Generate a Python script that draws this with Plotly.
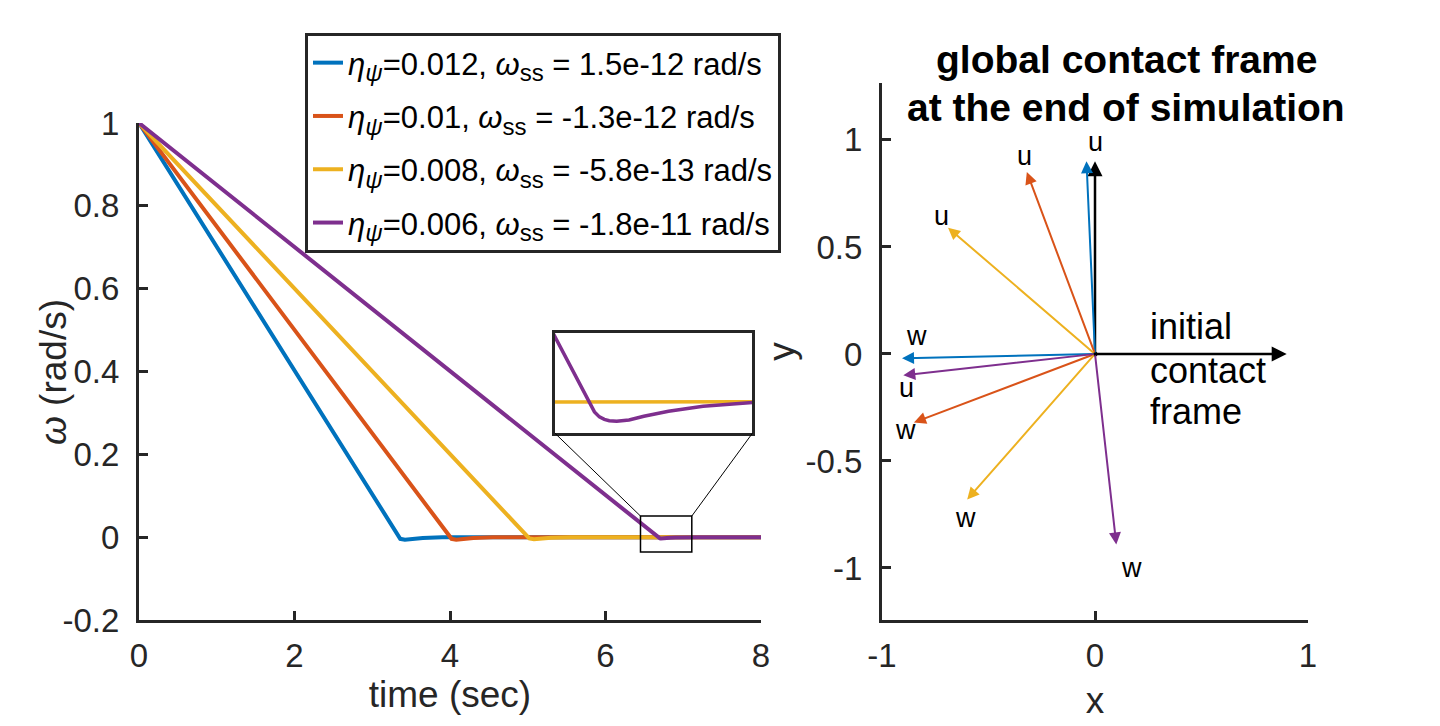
import plotly.graph_objects as go

# angular velocity decay (time in sec, omega in rad/s)
t_blue = [0, 3.30, 3.36, 3.42, 3.50, 3.65, 3.90, 8]
w_blue = [1, 0.01, -0.004, -0.006, -0.004, -0.002, -0.0005, 0]
t_orange = [0, 3.96, 4.02, 4.08, 4.16, 4.30, 4.55, 8]
w_orange = [1, 0.01, -0.004, -0.006, -0.004, -0.002, -0.0005, 0]
t_yellow = [0, 4.95, 5.02, 5.08, 5.16, 5.30, 5.55, 8]
w_yellow = [1, 0.01, -0.003, -0.005, -0.0035, -0.0015, -0.0004, 0]
t_purple = [0, 6.60, 6.64, 6.667, 6.68, 6.69, 6.70, 6.71, 6.725, 6.75, 6.78, 6.83, 6.90, 7.00, 7.20, 8]
w_purple = [1, 0.01, 0.004, 0.0, -0.0018, -0.0026, -0.0030, -0.0032, -0.0033, -0.0031,
            -0.0025, -0.0017, -0.0009, -0.0003, 0, 0]

SUB = '<sub><span style="font-size:24px">{}</span></sub>'
legend_names = [
    "<i>η</i>" + SUB.format("<i>ψ</i>") + "=0.012, <i>ω</i>" + SUB.format("ss") + " = 1.5e-12 rad/s",
    "<i>η</i>" + SUB.format("<i>ψ</i>") + "=0.01, <i>ω</i>" + SUB.format("ss") + " = -1.3e-12 rad/s",
    "<i>η</i>" + SUB.format("<i>ψ</i>") + "=0.008, <i>ω</i>" + SUB.format("ss") + " = -5.8e-13 rad/s",
    "<i>η</i>" + SUB.format("<i>ψ</i>") + "=0.006, <i>ω</i>" + SUB.format("ss") + " = -1.8e-11 rad/s",
]
colors = ["#0072BD", "#D95319", "#EDB120", "#7E2F8E"]

# contact frame vectors at the end of simulation
u_x = [-0.04, -0.32, -0.69, -0.90]
u_y = [0.90, 0.85, 0.59, -0.10]
w_x = [-0.906, -0.85, -0.60, 0.10]
w_y = [-0.02, -0.32, -0.68, -0.89]
# label spots for u / w
u_lab_x = [0.0, -0.33, -0.72, -0.887]
u_lab_y = [0.99, 0.925, 0.643, -0.16]
w_lab_x = [-0.84, -0.89, -0.606, 0.17]
w_lab_y = [0.085, -0.357, -0.765, -1.0]
init_u = [0, 0.90]
init_w = [0.90, 0]
init_text = ["initial", "contact", "frame"]
init_text_y = [0.127, -0.075, -0.268]
title_lines = ["global contact frame", "at the end of simulation"]

font = "Liberation Sans, Arial, Helvetica, sans-serif"
axcol = "#262626"

# page pixels -> paper fractions (page body has an 8px margin)
W, H = 1440, 726
OFF = 8


def px(x):
    return (x - OFF) / W


def py(y):
    return (H - (y - OFF)) / H


left_x = [px(139), px(761)]
left_y = [py(620), py(123)]
right_x = [px(882), px(1308)]
right_y = [py(620), py(83)]
x1_range = [0, 8]
y1_range = [-0.2, 1]

# inset box and zoomed region, in main-axes data units
inset_box_x = [5.35, 7.89]
inset_box_y = [0.251, 0.493]
zoom_box_x = [6.45, 7.11]
zoom_box_y = [-0.036, 0.051]


def to_paper(v, rng, dom):
    return dom[0] + (v - rng[0]) / (rng[1] - rng[0]) * (dom[1] - dom[0])


inset_x = [to_paper(v, x1_range, left_x) for v in inset_box_x]
inset_y = [to_paper(v, y1_range, left_y) for v in inset_box_y]

fig = go.Figure()

series = [(t_blue, w_blue), (t_orange, w_orange), (t_yellow, w_yellow), (t_purple, w_purple)]
for i, ((t, w), name, c) in enumerate(zip(series, legend_names, colors)):
    fig.add_trace(go.Scatter(x=t, y=w, mode="lines", name=name, legendgroup=f"g{i}",
                             line=dict(color=c, width=4), xaxis="x", yaxis="y"))

# inset (yellow and purple only)
for (t, w), c in zip(series[2:], colors[2:]):
    fig.add_trace(go.Scatter(x=t, y=w, mode="lines", showlegend=False,
                             line=dict(color=c, width=3.5), xaxis="x3", yaxis="y3"))

# origin dot of the right axes
fig.add_trace(go.Scatter(x=[0], y=[0], mode="markers", showlegend=False,
                         marker=dict(color="black", size=5), xaxis="x2", yaxis="y2"))

ann = []


def arrow(x, y, c, wd):
    return dict(x=x, y=y, ax=0, ay=0, xref="x2", yref="y2", axref="x2", ayref="y2",
                text="", showarrow=True, arrowhead=2, arrowsize=1.2, arrowwidth=wd,
                arrowcolor=c, standoff=0, startstandoff=0)


ann.append(arrow(init_u[0], init_u[1], "black", 2.5))
ann.append(arrow(init_w[0], init_w[1], "black", 2.5))
for i, c in enumerate(colors):
    ann.append(arrow(u_x[i], u_y[i], c, 2))
    ann.append(arrow(w_x[i], w_y[i], c, 2))
for i in range(4):
    ann.append(dict(x=u_lab_x[i], y=u_lab_y[i], xref="x2", yref="y2", text="u", showarrow=False,
                    font=dict(size=27, color="black", family=font)))
    ann.append(dict(x=w_lab_x[i], y=w_lab_y[i], xref="x2", yref="y2", text="w", showarrow=False,
                    font=dict(size=27, color="black", family=font)))
for txt, ty in zip(init_text, init_text_y):
    ann.append(dict(x=0.25, y=ty, xref="x2", yref="y2", text=txt,
                    showarrow=False, xanchor="left", yanchor="middle",
                    font=dict(size=36, color="black", family=font)))
for txt, ly in zip(title_lines, [60, 108]):
    ann.append(dict(x=px(1126), y=py(ly), xref="paper", yref="paper",
                    text=f"<b>{txt}</b>", showarrow=False, xanchor="center", yanchor="middle",
                    font=dict(size=39, color="black", family=font)))
# left y-axis title
ann.append(dict(x=px(54), y=py(372), xref="paper", yref="paper", text="<i>ω</i> (rad/s)",
                textangle=-90, showarrow=False, xanchor="center", yanchor="middle",
                font=dict(size=37, color=axcol, family=font)))

shapes = [
    dict(type="rect", xref="x", yref="y", x0=zoom_box_x[0], x1=zoom_box_x[1],
         y0=zoom_box_y[0], y1=zoom_box_y[1], line=dict(color="black", width=1.5)),
    dict(type="line", xref="x", yref="y", x0=inset_box_x[0], y0=inset_box_y[0],
         x1=zoom_box_x[0], y1=zoom_box_y[1], line=dict(color="black", width=1)),
    dict(type="line", xref="x", yref="y", x0=inset_box_x[1], y0=inset_box_y[0],
         x1=zoom_box_x[1], y1=zoom_box_y[1], line=dict(color="black", width=1)),
]

axis_common = dict(showgrid=False, zeroline=False, showline=True, linecolor=axcol, linewidth=3,
                   ticks="inside", ticklen=9, tickwidth=3, tickcolor=axcol, automargin=False,
                   tickfont=dict(size=33, color=axcol, family=font))

fig.update_layout(
    width=W, height=H,
    margin=dict(l=0, r=0, t=0, b=0),
    paper_bgcolor="white", plot_bgcolor="white",
    font=dict(family=font, color=axcol),
    xaxis=dict(domain=left_x, range=x1_range, tickvals=[0, 2, 4, 6, 8],
               title=dict(text="time (sec)", font=dict(size=37, color=axcol), standoff=0),
               anchor="y", ticklabelstandoff=4, **axis_common),
    yaxis=dict(domain=left_y, range=y1_range, tickvals=[-0.2, 0, 0.2, 0.4, 0.6, 0.8, 1],
               ticktext=["-0.2", "0", "0.2", "0.4", "0.6", "0.8", "1"],
               anchor="x", ticklabelstandoff=10, **axis_common),
    xaxis2=dict(domain=right_x, range=[-1, 1], tickvals=[-1, 0, 1], ticktext=["-1", "0", "1"],
                title=dict(text="x", font=dict(size=37, color=axcol)),
                anchor="y2", ticklabelstandoff=4, **axis_common),
    yaxis2=dict(domain=right_y, range=[-1.243, 1.266], tickvals=[-1, -0.5, 0, 0.5, 1],
                ticktext=["-1", "-0.5", "0", "0.5", "1"],
                title=dict(text="y", font=dict(size=37, color=axcol), standoff=0),
                anchor="x2", ticklabelstandoff=10, **axis_common),
    xaxis3=dict(domain=inset_x, range=[6.6, 7.0], anchor="y3", showgrid=False, zeroline=False,
                showline=True, mirror=True, linecolor=axcol, linewidth=3, automargin=False,
                showticklabels=False, ticks=""),
    yaxis3=dict(domain=inset_y, range=[-0.0052, 0.0108], anchor="x3", showgrid=False,
                zeroline=False, showline=True, mirror=True, linecolor=axcol, linewidth=3,
                automargin=False, showticklabels=False, ticks=""),
    legend=dict(x=px(305), y=py(33), xanchor="left", yanchor="top",
                bordercolor=axcol, borderwidth=3, bgcolor="white", tracegroupgap=10,
                font=dict(size=31, color="black", family=font), itemwidth=30),
    annotations=ann,
    shapes=shapes,
)

fig.write_html("out.html")
